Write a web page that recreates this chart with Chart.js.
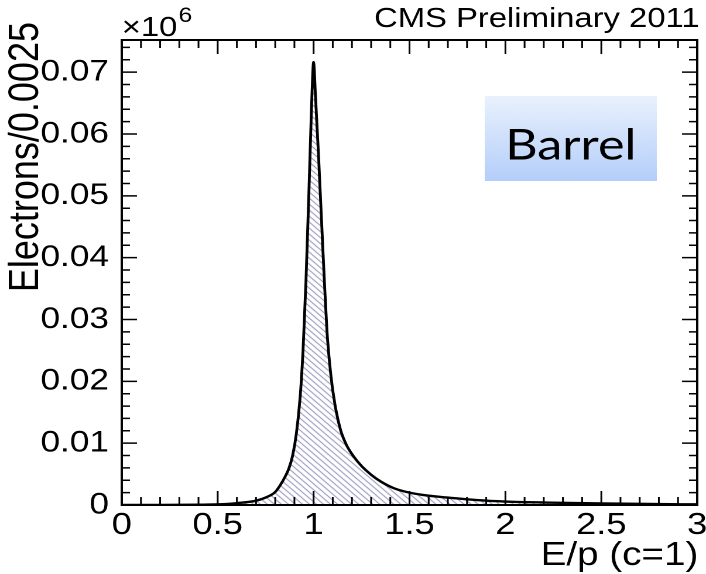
<!DOCTYPE html>
<html>
<head>
<meta charset="utf-8">
<script src="https://cdn.jsdelivr.net/npm/chart.js@4.4.1/dist/chart.umd.min.js"></script>
<style>
  html, body { margin: 0; padding: 0; background: #fff; overflow: hidden; }
  /* the original plot is a ROOT canvas stretched sideways, so stretch ours the same way */
  #wrap { width: 603px; height: 574px; transform: scaleX(1.1708); transform-origin: 0 0; }
</style>
</head>
<body>
<div id="wrap"><canvas id="epChart" width="603" height="574"></canvas></div>
<script>
// E/p bin positions and electrons per 0.0025 (in units of 10^6)
const epValues = [0, 0.2, 0.4, 0.5, 0.6, 0.7, 0.75, 0.8, 0.83, 0.85, 0.87, 0.89, 0.91, 0.93, 0.945,
  0.96, 0.975, 0.99, 1.0, 1.01, 1.025, 1.04, 1.055, 1.07, 1.09, 1.11, 1.14, 1.17, 1.21, 1.25,
  1.3, 1.35, 1.42, 1.5, 1.6, 1.7, 1.85, 2.0, 2.25, 2.5, 2.75, 3.0];
const electronCounts = [0, 0.00001, 0.00005, 0.0001, 0.0003, 0.0007, 0.0012, 0.0021, 0.0034, 0.0045,
  0.0058, 0.0079, 0.0115, 0.0175, 0.025, 0.036, 0.050, 0.065, 0.0716, 0.066, 0.057, 0.047, 0.037,
  0.028, 0.021, 0.0165, 0.0122, 0.0098, 0.0078, 0.0063, 0.0049, 0.0038, 0.0027, 0.0020, 0.0015,
  0.0012, 0.0008, 0.00056, 0.00038, 0.00025, 0.00016, 0.0001];

const xTickLabels = ['0', '0.5', '1', '1.5', '2', '2.5', '3'];
const yTickLabels = ['0', '0.01', '0.02', '0.03', '0.04', '0.05', '0.06', '0.07'];

const FONT = '"Liberation Sans", Arial, Helvetica, sans-serif';

function labelFor(value, labels) {
  const hit = labels.find(l => Math.abs(Number(l) - value) < 1e-6);
  return hit === undefined ? '' : hit;
}

function hatchPattern() {
  const n = 6;
  const c = document.createElement('canvas');
  c.width = n; c.height = n;
  const g = c.getContext('2d');
  g.strokeStyle = '#6c6ca0';
  g.lineWidth = 1;
  g.beginPath();
  g.moveTo(0, 0); g.lineTo(n, n);
  g.moveTo(-1, n - 1); g.lineTo(1, n + 1);
  g.moveTo(n - 1, -1); g.lineTo(n + 1, 1);
  g.stroke();
  return g.createPattern(c, 'repeat');
}

// inward ROOT-style ticks on all four sides, the frame, and the loose texts
const rootFrame = {
  id: 'rootFrame',
  afterDatasetsDraw(chart) {
    const { ctx, chartArea: a, scales: { x, y } } = chart;
    ctx.save();
    ctx.strokeStyle = '#000';
    ctx.lineWidth = 1.5;
    ctx.beginPath();
    x.ticks.forEach(t => {
      const px = x.getPixelForValue(t.value);
      const len = t.label ? 14 : 8;
      ctx.moveTo(px, a.bottom); ctx.lineTo(px, a.bottom - len);
      ctx.moveTo(px, a.top); ctx.lineTo(px, a.top + len);
    });
    y.ticks.forEach(t => {
      const py = y.getPixelForValue(t.value);
      const len = t.label ? 13 : 7;
      ctx.moveTo(a.left, py); ctx.lineTo(a.left + len, py);
      ctx.moveTo(a.right, py); ctx.lineTo(a.right - len, py);
    });
    ctx.stroke();
    ctx.lineWidth = 2;
    ctx.strokeRect(a.left, a.top, a.right - a.left, a.bottom - a.top);
    ctx.restore();
  },
  afterDraw(chart) {
    const { ctx, chartArea: a } = chart;
    ctx.save();
    ctx.fillStyle = '#000';

    ctx.font = '28px ' + FONT;
    ctx.textAlign = 'right';
    ctx.textBaseline = 'alphabetic';
    ctx.fillText('CMS Preliminary 2011', a.right + 2, 27);

    ctx.textAlign = 'left';
    ctx.fillText('\u00d710', a.left, 36);
    const w = ctx.measureText('\u00d710').width;
    ctx.font = '21px ' + FONT;
    ctx.fillText('6', a.left + w + 1, 22);

    ctx.font = '33px ' + FONT;
    ctx.textAlign = 'right';
    ctx.fillText('E/p (c=1)', a.right + 1, 565);

    ctx.save();
    ctx.translate(32.5, 22);
    ctx.rotate(-Math.PI / 2);
    ctx.font = '36px ' + FONT;
    ctx.textAlign = 'right';
    ctx.fillText('Electrons/0.0025', 0, 0);
    ctx.restore();

    // label box
    const bx = 414, by = 96, bw = 147, bh = 85;
    const grad = ctx.createLinearGradient(0, by, 0, by + bh);
    grad.addColorStop(0, '#e9f1fd');
    grad.addColorStop(1, '#b4cefa');
    ctx.fillStyle = grad;
    ctx.fillRect(bx, by, bw, bh);
    ctx.fillStyle = '#000';
    ctx.font = '43px Lato, "Open Sans", sans-serif';
    ctx.textAlign = 'center';
    ctx.textBaseline = 'middle';
    ctx.fillText('Barrel', bx + bw / 2, by + bh / 2 + 7);
    ctx.restore();
  }
};

new Chart(document.getElementById('epChart'), {
  type: 'line',
  data: {
    datasets: [{
      data: epValues.map((v, i) => ({ x: v, y: electronCounts[i] })),
      borderColor: '#000',
      borderWidth: 2.4,
      backgroundColor: hatchPattern(),
      fill: 'origin',
      pointRadius: 0,
      cubicInterpolationMode: 'monotone'
    }]
  },
  options: {
    responsive: false,
    animation: false,
    devicePixelRatio: 2,
    layout: { padding: { top: 40, right: 7.5, left: 0, bottom: 0 } },
    plugins: {
      legend: { display: false },
      tooltip: { enabled: false }
    },
    scales: {
      x: {
        type: 'linear',
        min: 0,
        max: 3,
        afterFit: s => { s.height = 69; s.paddingLeft = 0; s.paddingRight = 0; },
        grid: { display: false, drawTicks: false },
        border: { display: false },
        ticks: {
          stepSize: 0.1,
          autoSkip: false,
          maxRotation: 0,
          includeBounds: false,
          padding: 2,
          color: '#000',
          font: { family: FONT, size: 31 },
          callback: v => labelFor(v, xTickLabels)
        }
      },
      y: {
        min: 0,
        max: 0.0752,
        afterFit: s => { s.width = 104; s.paddingTop = 0; s.paddingBottom = 0; },
        grid: { display: false, drawTicks: false },
        border: { display: false },
        ticks: {
          stepSize: 0.002,
          autoSkip: false,
          includeBounds: false,
          padding: 11,
          color: '#000',
          font: { family: FONT, size: 30 },
          callback: v => labelFor(v, yTickLabels)
        }
      }
    }
  },
  plugins: [rootFrame]
});
</script>
</body>
</html>
